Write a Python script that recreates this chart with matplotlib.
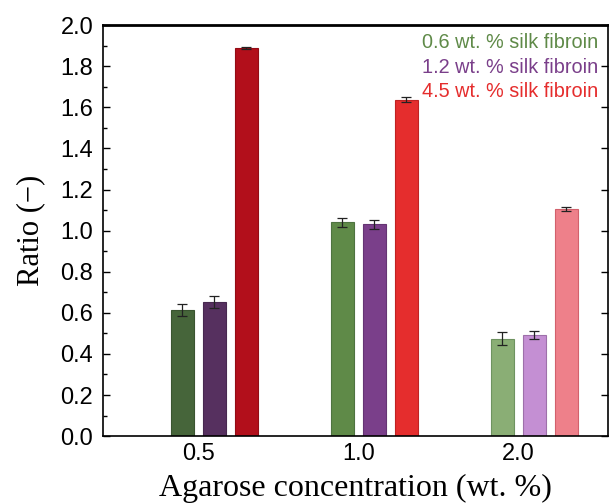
import matplotlib.pyplot as plt
import numpy as np
from matplotlib.ticker import MultipleLocator

# ----------------------------
# Data
# ----------------------------
categories = ['0.5', '1.0', '2.0']

ratio_06 = [0.615, 1.04, 0.475]
err_06 = [0.03, 0.02, 0.03]

ratio_12 = [0.652, 1.03, 0.491]
err_12 = [0.03, 0.02, 0.02]

ratio_45 = [1.89, 1.638, 1.105]
err_45 = [0.005, 0.01, 0.01]

series_labels = ['0.6 wt. % silk fibroin', '1.2 wt. % silk fibroin', '4.5 wt. % silk fibroin']

# shade per agarose concentration (dark -> light)
greens = ['#46653a', '#5f8a48', '#8aae75']
purples = ['#56305f', '#7a3f8a', '#c48fd3']
reds = ['#b20f1b', '#e52d2d', '#ee808a']
green_edge = ['#3a5430', '#4e7340', '#6e9360']
purple_edge = ['#47284f', '#653473', '#9e70aa']
red_edge = ['#930c15', '#c02222', '#d2616c']
legend_colors = ['#5f8a48', '#7a3f8a', '#e52d2d']

plt.rcParams['font.family'] = ['Liberation Sans', 'DejaVu Sans']

fig = plt.figure(figsize=(6.09, 5.03), dpi=100)
ax = fig.add_axes([0.169, 0.133, 0.829, 0.817])

x = np.arange(len(categories))
width = 0.144
step = 0.2
err_kw = dict(ecolor='#222222', elinewidth=0.9, capsize=3.6, capthick=0.9)

b1 = ax.bar(x - step / 2, ratio_06, width, yerr=err_06, color=greens,
            edgecolor=green_edge, linewidth=0.8, error_kw=err_kw, label=series_labels[0])
b2 = ax.bar(x + step / 2, ratio_12, width, yerr=err_12, color=purples,
            edgecolor=purple_edge, linewidth=0.8, error_kw=err_kw, label=series_labels[1])
b3 = ax.bar(x + 3 * step / 2, ratio_45, width, yerr=err_45, color=reds,
            edgecolor=red_edge, linewidth=0.8, error_kw=err_kw, label=series_labels[2])

ax.set_xlim(-0.597, 2.56)
ax.set_ylim(0, 2.0)
ax.set_xticks(x)
ax.set_xticklabels(categories)
ax.yaxis.set_major_locator(MultipleLocator(0.2))
ax.yaxis.set_minor_locator(MultipleLocator(0.1))
ax.yaxis.set_major_formatter(plt.FormatStrFormatter('%.1f'))

ax.tick_params(axis='x', length=0, pad=5, labelsize=17)
ax.tick_params(axis='y', which='major', direction='in', length=5, width=1.0,
               right=True, pad=7, labelsize=17)
ax.tick_params(axis='y', which='minor', direction='in', length=3, width=1.0, left=True, right=False)

for side in ['left', 'bottom', 'right']:
    ax.spines[side].set_linewidth(1.2)
ax.spines['top'].set_linewidth(2.0)

ax.set_ylabel('Ratio (\u2212)', family=['Liberation Serif', 'DejaVu Serif'], fontsize=22, labelpad=11)
ax.set_xlabel('Agarose concentration (wt. %)', family=['Liberation Serif', 'DejaVu Serif'],
              fontsize=23, labelpad=6.5)

leg = ax.legend(handles=[b1, b2, b3], loc='upper right', bbox_to_anchor=(0.997, 1.0),
                frameon=False, handlelength=0, handletextpad=0, fontsize=14.3,
                labelspacing=0.28, borderaxespad=0.0)
for h in leg.legend_handles:
    h.set_visible(False)
for txt, c in zip(leg.get_texts(), legend_colors):
    txt.set_color(c)

plt.savefig('out.png', dpi=100)
